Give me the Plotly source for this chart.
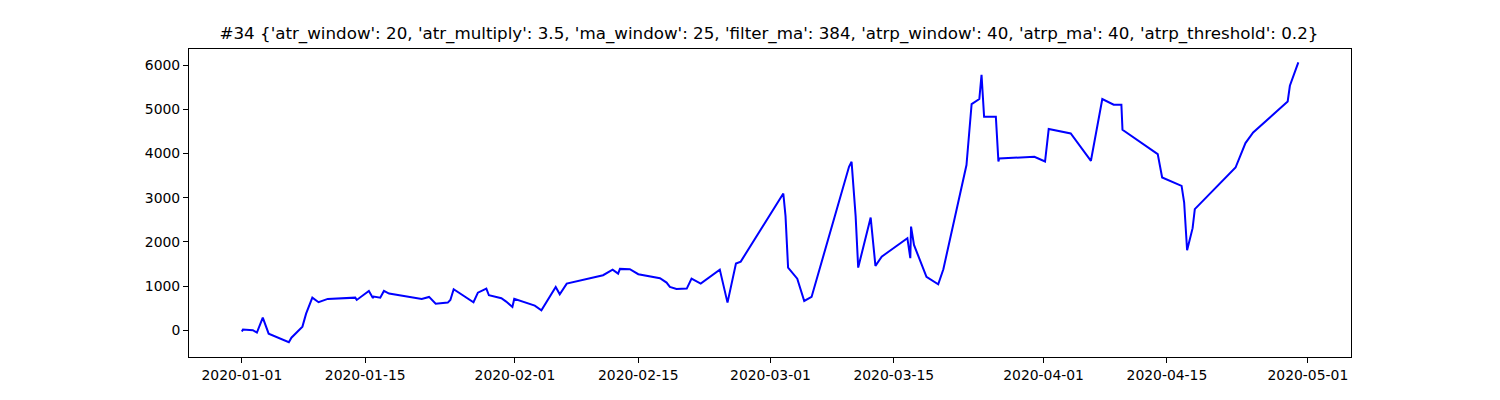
import plotly.graph_objects as go

# timestamps and equity values
dates = [
    "2020-01-01 00:00", "2020-01-01 03:00", "2020-01-02 06:00", "2020-01-02 17:00",
    "2020-01-03 09:00", "2020-01-04 01:00", "2020-01-06 08:00", "2020-01-06 15:00",
    "2020-01-07 21:00", "2020-01-08 07:00", "2020-01-09 00:00", "2020-01-09 17:00",
    "2020-01-10 18:00", "2020-01-13 21:00", "2020-01-14 01:00", "2020-01-15 10:00",
    "2020-01-15 21:00", "2020-01-15 23:00", "2020-01-16 17:00", "2020-01-17 03:00",
    "2020-01-17 17:00", "2020-01-21 04:00", "2020-01-21 10:00", "2020-01-22 06:00",
    "2020-01-23 00:00", "2020-01-24 09:00", "2020-01-24 16:00", "2020-01-25 01:00",
    "2020-01-27 07:00", "2020-01-27 19:00", "2020-01-28 18:00", "2020-01-29 01:00",
    "2020-01-30 11:00", "2020-01-31 00:00", "2020-01-31 17:00", "2020-01-31 22:00",
    "2020-02-03 06:00", "2020-02-04 00:00", "2020-02-05 15:00", "2020-02-06 02:00",
    "2020-02-06 21:00", "2020-02-11 00:00", "2020-02-12 02:00", "2020-02-12 17:00",
    "2020-02-12 22:00", "2020-02-14 01:00", "2020-02-15 00:00", "2020-02-17 11:00",
    "2020-02-18 05:00", "2020-02-18 14:00", "2020-02-19 08:00", "2020-02-20 12:00",
    "2020-02-21 01:00", "2020-02-22 02:00", "2020-02-24 06:00", "2020-02-25 03:00",
    "2020-02-26 02:00", "2020-02-26 15:00", "2020-03-02 11:00", "2020-03-02 17:00",
    "2020-03-03 00:00", "2020-03-04 01:00", "2020-03-04 20:00", "2020-03-05 16:00",
    "2020-03-09 22:00", "2020-03-10 05:00", "2020-03-10 16:00", "2020-03-10 23:00",
    "2020-03-12 09:00", "2020-03-12 22:00", "2020-03-13 15:00", "2020-03-16 13:00",
    "2020-03-16 21:00", "2020-03-16 23:00", "2020-03-17 07:00", "2020-03-18 17:00",
    "2020-03-20 01:00", "2020-03-20 15:00", "2020-03-23 06:00", "2020-03-23 20:00",
    "2020-03-24 17:00", "2020-03-24 23:00", "2020-03-25 06:00", "2020-03-26 14:00",
    "2020-03-26 21:00", "2020-03-26 23:00", "2020-03-30 23:00", "2020-04-01 04:00",
    "2020-04-01 14:00", "2020-04-04 02:00", "2020-04-06 09:00", "2020-04-07 16:00",
    "2020-04-08 23:00", "2020-04-09 20:00", "2020-04-09 23:00", "2020-04-13 23:00",
    "2020-04-14 11:00", "2020-04-16 16:00", "2020-04-16 23:00", "2020-04-17 07:00",
    "2020-04-17 22:00", "2020-04-18 04:00", "2020-04-22 19:00", "2020-04-23 22:00",
    "2020-04-24 19:00", "2020-04-28 17:00", "2020-04-28 23:00", "2020-04-29 22:00",
]
values = [
    -27, 18, 0, -54, 285, -77, -272, -168,
    82, 376, 738, 634, 709, 738, 686, 890,
    731, 761, 738, 890, 829, 731, 709, 754,
    602, 625, 686, 928, 634, 851, 942, 792,
    724, 648, 528, 709, 557, 453, 980, 815,
    1055, 1245, 1372, 1281, 1388, 1381, 1268, 1177,
    1078, 980, 935, 942, 1168, 1055, 1372, 625,
    1508, 1553, 3093, 2588, 1417, 1168, 663, 754,
    3697, 3810, 2588, 1417, 2549, 1456, 1666, 2083,
    1630, 2346, 1931, 1207, 1041, 1381, 3736, 5117,
    5230, 5780, 4829, 4829, 3817, 3885, 3924, 3817,
    4551, 4451, 3833, 5230, 5101, 5101, 4535, 3985,
    3455, 3267, 2889, 1811, 2309, 2739, 3681, 4234,
    4474, 5176, 5531, 6058,
]

x_ticks = ["2020-01-01", "2020-01-15", "2020-02-01", "2020-02-15", "2020-03-01",
           "2020-03-15", "2020-04-01", "2020-04-15", "2020-05-01"]
y_ticks = [0, 1000, 2000, 3000, 4000, 5000, 6000]

title = ("#34 {'atr_window': 20, 'atr_multiply': 3.5, 'ma_window': 25, "
         "'filter_ma': 384, 'atrp_window': 40, 'atrp_ma': 40, 'atrp_threshold': 0.2}")

fig = go.Figure()
fig.add_trace(go.Scatter(
    x=dates, y=values, mode="lines",
    line=dict(color="#0000ff", width=2),
    showlegend=False,
))

axis_style = dict(
    showline=True, linecolor="black", linewidth=1, mirror=True,
    ticks="outside", ticklen=5, tickcolor="black", tickwidth=1,
    showgrid=False, zeroline=False,
    tickfont=dict(family="DejaVu Sans", size=13.9, color="black"),
)

fig.update_layout(
    width=1500, height=400,
    margin=dict(l=181, r=157, t=41, b=51),
    paper_bgcolor="white", plot_bgcolor="white",
    title=dict(text=title, x=0.5073, xanchor="center", y=0.9375, yanchor="middle",
               font=dict(family="DejaVu Sans", size=16.7, color="black")),
    xaxis=dict(range=["2019-12-26 00:00", "2020-05-05 21:30"],
               tickvals=x_ticks, tickformat="%Y-%m-%d", **axis_style),
    yaxis=dict(range=[-605, 6362], tickvals=y_ticks, **axis_style),
)

fig.write_html("out.html")
